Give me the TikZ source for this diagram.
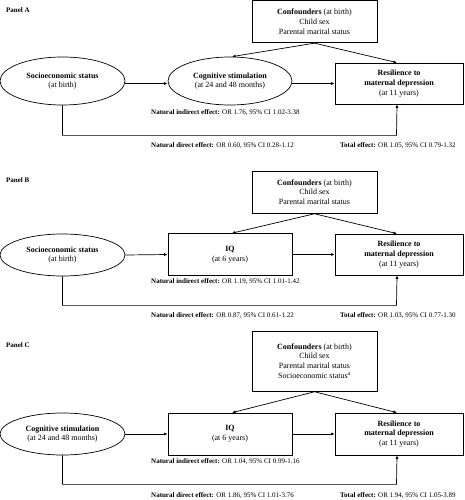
\documentclass[tikz,border=0pt]{standalone}
\usepackage{fontspec}
\setmainfont{Liberation Serif}
\usetikzlibrary{shapes.geometric,arrows.meta}
\begin{document}
\begin{tikzpicture}[x=1pt,y=-1pt,
 every node/.style={font=\fontsize{8}{9.6}\selectfont},
 oval/.style={draw,ellipse,minimum width=125pt,minimum height=42pt,align=center,inner sep=0pt,line width=0.7pt},
 boxn/.style={draw,rectangle,align=center,inner sep=0pt,line width=0.7pt},
 conn/.style={-{Latex[length=3.5pt,width=3pt]},line width=0.7pt},
 eff/.style={font=\fontsize{7}{8}\selectfont,anchor=west,inner sep=0pt},
 panel/.style={font=\bfseries\fontsize{7}{8}\selectfont,anchor=west,inner sep=0pt}]
\useasboundingbox (0,0) rectangle (464,500);

% ---------- Panel A ----------
\node[panel] (pA) at (6,10) {Panel A};
\node[boxn,minimum width=125pt,minimum height=42pt] (cA) at (314.5,21.8) {\textbf{Confounders} (at birth)\\Child sex\\Parental marital status};
\node[oval,minimum height=48pt] (sA) at (62.5,81) {\textbf{Socioeconomic status}\\(at birth)};
\node[oval,minimum width=124pt,minimum height=48pt] (mA) at (230,81) {\textbf{Cognitive stimulation}\\(at 24 and 48 months)};
\node[boxn,minimum width=128pt,minimum height=41pt] (rA) at (399,83.5) {\textbf{Resilience to}\\\textbf{maternal depression}\\(at 11 years)};
\draw[conn] (sA.east |- rA.west) -- (mA.west |- rA.west);
\draw[conn] (mA.east |- rA.west) -- (rA.west);
\draw[conn] (cA.south) -- ([xshift=2pt]mA.north);
\draw[conn] (cA.south) -- ([xshift=-2pt]rA.north);
\draw[conn] (sA.south) |- ++(334,30) coordinate (dA) -- ([xshift=-2pt]rA.south);
\node[eff] (nieA) at (151,112.5) {\textbf{Natural indirect effect:} OR 1.76, 95\% CI 1.02-3.38};
\node[eff] (ndeA) at (151,146) {\textbf{Natural direct effect:} OR 0.60, 95\% CI 0.28-1.12};
\node[eff] (teA) at (340,146) {\textbf{Total effect:} OR 1.05, 95\% CI 0.79-1.32};

% ---------- Panel B ----------
\node[panel] (pB) at (6,180) {Panel B};
\node[boxn,minimum width=125pt,minimum height=42pt] (cB) at (314.5,192) {\textbf{Confounders} (at birth)\\Child sex\\Parental marital status};
\node[oval] (sB) at (62.5,255) {\textbf{Socioeconomic status}\\(at birth)};
\node[boxn,minimum width=124pt,minimum height=42pt] (mB) at (230,254.5) {\textbf{IQ}\\(at 6 years)};
\node[boxn,minimum width=128pt,minimum height=41pt] (rB) at (399,254.5) {\textbf{Resilience to}\\\textbf{maternal depression}\\(at 11 years)};
\draw[conn] (sB.east) -- (mB.west);
\draw[conn] (mB.east) -- (rB.west);
\draw[conn] ([yshift=-0.4pt]cB.south) -- ([xshift=2pt]mB.north);
\draw[conn] ([yshift=-0.4pt]cB.south) -- ([xshift=-2pt]rB.north);
\draw[conn] (sB.south) |- ++(334,29) coordinate (dB) -- ([xshift=-2pt]rB.south);
\node[eff] (nieB) at (151,282) {\textbf{Natural indirect effect:} OR 1.19, 95\% CI 1.01-1.42};
\node[eff] (ndeB) at (151,316) {\textbf{Natural direct effect:} OR 0.87, 95\% CI 0.61-1.22};
\node[eff] (teB) at (340,316) {\textbf{Total effect:} OR 1.03, 95\% CI 0.77-1.30};

% ---------- Panel C ----------
\node[panel] (pC) at (6,345) {Panel C};
\node[boxn,minimum width=125pt,minimum height=60pt] (cC) at (314.5,361) {\textbf{Confounders} (at birth)\\Child sex\\Parental marital status\\Socioeconomic status\textsuperscript{a}};
\node[oval] (sC) at (62.5,434) {\textbf{Cognitive stimulation}\\(at 24 and 48 months)};
\node[boxn,minimum width=124pt,minimum height=42pt] (mC) at (230,434) {\textbf{IQ}\\(at 6 years)};
\node[boxn,minimum width=128pt,minimum height=42pt] (rC) at (399,434) {\textbf{Resilience to}\\\textbf{maternal depression}\\(at 11 years)};
\draw[conn] (sC.east) -- (mC.west);
\draw[conn] (mC.east) -- (rC.west);
\draw[conn] ([yshift=-0.4pt]cC.south) -- ([xshift=2pt]mC.north);
\draw[conn] ([yshift=-0.4pt]cC.south) -- ([xshift=-2pt]rC.north);
\draw[conn] (sC.south) |- ++(334,29) coordinate (dC) -- ([xshift=-2pt]rC.south);
\node[eff] (nieC) at (151,462) {\textbf{Natural indirect effect:} OR 1.04, 95\% CI 0.99-1.16};
\node[eff] (ndeC) at (151,495.5) {\textbf{Natural direct effect:} OR 1.86, 95\% CI 1.01-3.76};
\node[eff] (teC) at (340,495.5) {\textbf{Total effect:} OR 1.94, 95\% CI 1.05-3.89};
\end{tikzpicture}
\end{document}
